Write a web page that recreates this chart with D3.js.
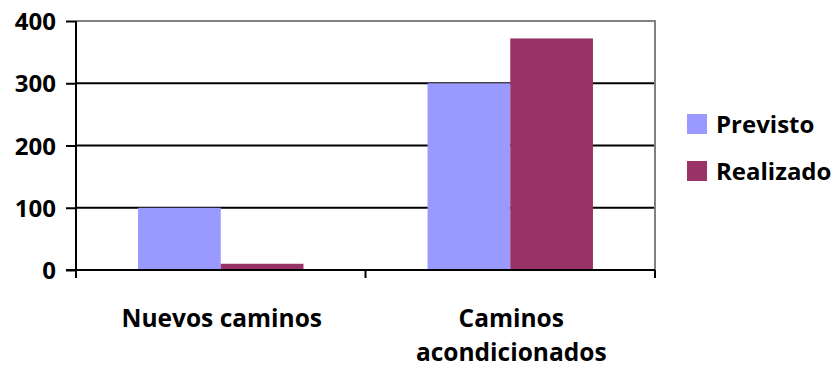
<!DOCTYPE html>
<html>
<head>
<meta charset="utf-8">
<script src="https://cdn.jsdelivr.net/npm/d3@7"></script>
<style>
    body { margin: 0; background: #fff; }
    svg text { font-family: "Open Sans", sans-serif; font-weight: bold; fill: #000; }
</style>
</head>
<body>
<div id="chart"></div>
<script>
const categories = [["Nuevos caminos"], ["Caminos", "acondicionados"]];
const seriesNames = ["Previsto", "Realizado"];
const previsto = [100, 300];
const realizado = [10, 372];
const yTicks = [0, 100, 200, 300, 400];

const colors = d3.scaleOrdinal().domain(seriesNames).range(["#9999ff", "#993366"]);

const margin = { top: 21, right: 181, bottom: 100, left: 76 },
    width = 836 - margin.left - margin.right,
    height = 370 - margin.top - margin.bottom;

const svg = d3.select("#chart")
    .append("svg")
    .attr("width", 836)
    .attr("height", 370);

const g = svg.append("g")
    .attr("transform", `translate(${margin.left},${margin.top})`);

const catKeys = categories.map(c => c.join(" "));
const dataset = catKeys.map((k, i) => ({ category: k, Previsto: previsto[i], Realizado: realizado[i] }));

const x0 = d3.scaleBand().domain(catKeys).range([0, width]).padding(0);
const x1 = d3.scaleBand().domain(seriesNames).range([0, x0.bandwidth()])
    .paddingInner(0).paddingOuter(0.75);
const y = d3.scaleLinear().domain([0, 400]).range([height, 0]);

// gridlines
g.selectAll(".grid")
    .data(yTicks.filter(d => d > 0 && d < 400))
    .enter().append("line")
    .attr("x1", 0).attr("x2", width)
    .attr("y1", d => y(d)).attr("y2", d => y(d))
    .attr("stroke", "#000").attr("stroke-width", 2);

// gray frame top and right
g.append("path")
    .attr("d", `M0,${y(400)}H${width}V${height}`)
    .attr("fill", "none").attr("stroke", "#808080").attr("stroke-width", 2);

// bars
const groups = g.selectAll(".grp")
    .data(dataset)
    .enter().append("g")
    .attr("transform", d => `translate(${x0(d.category)},0)`);

groups.selectAll("rect")
    .data(d => seriesNames.map(key => ({ key, value: d[key] })))
    .enter().append("rect")
    .attr("x", d => x1(d.key))
    .attr("y", d => y(d.value))
    .attr("width", x1.bandwidth())
    .attr("height", d => height - y(d.value))
    .attr("fill", d => colors(d.key));

// y axis
const yAxis = g.append("g")
    .call(d3.axisLeft(y).tickValues(yTicks).tickSize(10).tickPadding(10));
yAxis.select(".domain").attr("stroke", "#000").attr("stroke-width", 2)
    .attr("d", `M0,${y(400)}V${height}`);
yAxis.selectAll(".tick line").attr("stroke", "#000").attr("stroke-width", 2);
yAxis.selectAll(".tick text").style("font-size", "24px").attr("dy", "0.36em");

// x axis line and ticks
g.append("line")
    .attr("x1", -10).attr("x2", width)
    .attr("y1", height).attr("y2", height)
    .attr("stroke", "#000").attr("stroke-width", 2);

const xTickPos = catKeys.map(k => x0(k)).concat([width]);
g.selectAll(".xtick")
    .data(xTickPos)
    .enter().append("line")
    .attr("x1", d => d).attr("x2", d => d)
    .attr("y1", height).attr("y2", height + 8)
    .attr("stroke", "#000").attr("stroke-width", 2);

// category labels
const catLabels = g.selectAll(".cat")
    .data(categories)
    .enter().append("text")
    .attr("text-anchor", "middle")
    .attr("x", (d, i) => x0(catKeys[i]) + x0.bandwidth() / 2 + 1)
    .attr("y", height + 57)
    .style("font-size", "24.5px");

catLabels.selectAll("tspan")
    .data(d => d)
    .enter().append("tspan")
    .attr("x", function () { return this.parentNode.getAttribute("x"); })
    .attr("dy", (d, i) => i === 0 ? 0 : 34)
    .text(d => d);

// legend
const legend = svg.selectAll(".legend")
    .data(seriesNames)
    .enter().append("g")
    .attr("transform", (d, i) => `translate(687,${114 + i * 47})`);

legend.append("rect")
    .attr("width", 20).attr("height", 20)
    .attr("fill", colors);

legend.append("text")
    .attr("x", 29).attr("y", 19)
    .style("font-size", "24px")
    .text(d => d);
</script>
</body>
</html>
